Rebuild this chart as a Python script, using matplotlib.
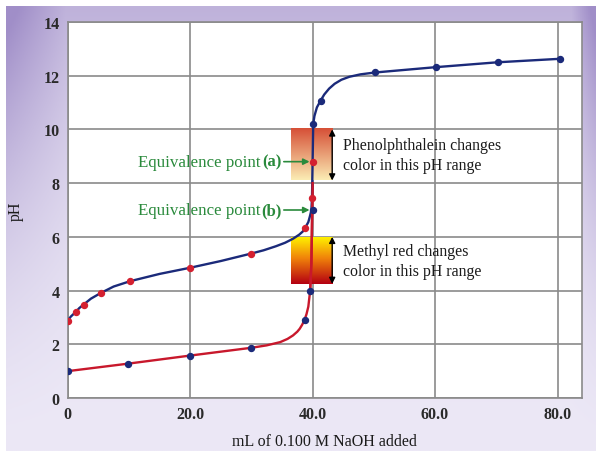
import matplotlib
matplotlib.use("Agg")
import matplotlib.pyplot as plt
import numpy as np

# weak acid (acetic) titration: curve readings and plotted points
weak_line_x = [0, 0.5, 1.3, 1.9, 2.6, 3.8, 5.4, 7.5, 10.2, 15, 20, 25, 30, 32, 34, 35.5, 36.8, 37.8, 38.4, 38.8,
               39.3, 39.6, 39.8, 39.9, 40.0, 40.1, 40.3, 40.7, 41.3, 41.9, 42.7, 43.6, 44.7, 46, 47.8, 50.2,
               60.2, 70.2, 80.4]
weak_line_y = [2.87, 3.03, 3.2, 3.35, 3.48, 3.7, 3.91, 4.15, 4.35, 4.62, 4.85, 5.1, 5.38, 5.5, 5.65, 5.78, 5.93,
               6.08, 6.2, 6.34, 6.55, 6.8, 7.0, 7.44, 8.8, 10.2, 10.5, 10.82, 11.07, 11.3, 11.52, 11.7, 11.85,
               11.96, 12.05, 12.12, 12.32, 12.5, 12.63]
weak_pts_x = [0, 1.3, 2.6, 5.4, 10.2, 20, 30, 38.8, 39.9, 40.0]
weak_pts_y = [2.87, 3.2, 3.48, 3.91, 4.35, 4.85, 5.38, 6.34, 7.44, 8.8]
base_pts_x = [40.1, 41.3, 50.2, 60.2, 70.2, 80.4]
base_pts_y = [10.2, 11.07, 12.12, 12.32, 12.5, 12.63]

# strong acid (HCl) titration
strong_line_x = [0, 9.9, 20, 30, 32.5, 34.7, 35.9, 36.8, 37.5, 37.9, 38.3, 38.7, 39.0, 39.3, 39.6, 39.8,
                 39.9, 40.0]
strong_line_y = [1.0, 1.28, 1.58, 1.87, 1.96, 2.08, 2.2, 2.33, 2.47, 2.58, 2.73, 2.92, 3.12, 3.4, 4.0, 5.0,
                 6.5, 8.0]
strong_pts_x = [0, 9.9, 20, 30, 38.7, 39.6, 40.0]
strong_pts_y = [1.0, 1.28, 1.58, 1.87, 2.92, 4.0, 7.0]

xticks = [0, 20, 40, 60, 80]
xticklabels = ["0", "20.0", "40.0", "60.0", "80.0"]
yticks = [0, 2, 4, 6, 8, 10, 12, 14]

phenol_range = (8.1, 10.0)
methyl_range = (4.25, 6.0)
box_x = (36.4, 43.2)

navy = "#1b2a7a"
red = "#c8182c"
green = "#2a8a3c"

plt.rcParams["font.family"] = ["Liberation Serif", "DejaVu Serif"]

fig = plt.figure(figsize=(6, 4.52), dpi=100)
fig.patch.set_facecolor("white")

# purple gradient frame
bg = fig.add_axes([6 / 600, 0, 590 / 600, 445 / 452], zorder=0)
h, w = 200, 300
yy, xx = np.mgrid[0:1:h * 1j, 0:1:w * 1j]
edge = np.clip(1 - np.minimum(xx / 0.1, (1 - xx) / 0.04), 0, 1)
wt = np.clip((1 - yy) ** 1.8 * (0.6 + 0.4 * edge) + 0.1 * edge * (1 - yy), 0, 1)
dark = np.array([160, 142, 200]) / 255
light = np.array([236, 232, 246]) / 255
img = light[None, None, :] * (1 - wt[..., None]) + dark[None, None, :] * wt[..., None]
bg.imshow(img, aspect="auto", extent=[0, 1, 0, 1], origin="upper")
bg.axis("off")

ax = fig.add_axes([67.7 / 600, 53 / 452, (582 - 67.7) / 600, (399 - 23) / 452], zorder=1)
ax.set_facecolor("white")

ax.set_xticks(xticks)
ax.set_xticklabels(xticklabels)
ax.set_yticks(yticks)
ax.grid(True, color="#8a8a8a", lw=1.2, zorder=0)
ax.tick_params(length=0, labelsize=11.5, labelcolor="#2a2a2a", pad=6)
for lab in ax.get_xticklabels() + ax.get_yticklabels():
    lab.set_fontweight("bold")
for s in ax.spines.values():
    s.set_color("#8a8a8a")
    s.set_linewidth(1.2)

# indicator colour boxes
g = np.linspace(0, 1, 100)[:, None]
top = np.array([214, 80, 55]) / 255
bot = np.array([251, 236, 180]) / 255
ph_img = top * (1 - g[..., None]) + bot * g[..., None]
ph_img = np.repeat(ph_img, 2, axis=1)
ax.imshow(ph_img, extent=[box_x[0], box_x[1], phenol_range[0], phenol_range[1]],
          aspect="auto", origin="upper", zorder=2)
c1 = np.array([255, 240, 0]) / 255
c2 = np.array([240, 130, 10]) / 255
c3 = np.array([180, 0, 18]) / 255
gg = g[..., None]
mr_img = np.where(gg < 0.45, c1 * (1 - gg / 0.45) + c2 * (gg / 0.45),
                  c2 * (1 - (gg - 0.45) / 0.55) + c3 * ((gg - 0.45) / 0.55))
mr_img = np.repeat(mr_img, 2, axis=1)
ax.imshow(mr_img, extent=[box_x[0], box_x[1], methyl_range[0], methyl_range[1]],
          aspect="auto", origin="upper", zorder=2)

# curves
ax.plot(strong_line_x, strong_line_y, color=red, lw=1.7, zorder=3)
ax.plot(weak_line_x, weak_line_y, color=navy, lw=1.7, zorder=4)
ax.plot(strong_line_x[-4:], strong_line_y[-4:], color=red, lw=1.7, zorder=4.5)
ax.plot(weak_pts_x, weak_pts_y, "o", color="#d42030", ms=4.3, zorder=5)
ax.plot(strong_pts_x, strong_pts_y, "o", color=navy, ms=4.3, zorder=5)
ax.plot(base_pts_x, base_pts_y, "o", color=navy, ms=4.3, zorder=5)

# range arrows
for lo, hi in [phenol_range, methyl_range]:
    ax.annotate("", xy=(box_x[1], hi), xytext=(box_x[1], lo),
                arrowprops=dict(arrowstyle="<|-|>", color="black", lw=1.0,
                                mutation_scale=9, shrinkA=0, shrinkB=0), zorder=6)

ax.text(44.9, 9.05, "Phenolphthalein changes\ncolor in this pH range", fontsize=11.4,
        va="center", ha="left", color="#1a1a1a", linespacing=1.3, zorder=6)
ax.text(44.9, 5.1, "Methyl red changes\ncolor in this pH range", fontsize=11.4,
        va="center", ha="left", color="#1a1a1a", linespacing=1.3, zorder=6)

# equivalence point labels
for yv, tag in [(8.8, "(a)"), (7.0, "(b)")]:
    ax.text(34.9, yv, tag, fontsize=12, fontweight="bold", color=green,
            ha="right", va="center", zorder=6)
    ax.text(31.5, yv, "Equivalence point", fontsize=12.2, color=green,
            ha="right", va="center", zorder=6)
    ax.annotate("", xy=(39.5, yv), xytext=(35.3, yv),
                arrowprops=dict(arrowstyle="-|>", color=green, lw=1.2,
                                mutation_scale=9, shrinkA=0, shrinkB=0), zorder=6)

ax.set_xlim(0, 84)
ax.set_ylim(0, 14)
ax.set_xlabel("mL of 0.100 M NaOH added", fontsize=11.5, color="#1a1a1a", labelpad=8)
ax.set_ylabel("pH", fontsize=11.5, color="#1a1a1a", labelpad=14)

fig.savefig("out.png", dpi=100)
